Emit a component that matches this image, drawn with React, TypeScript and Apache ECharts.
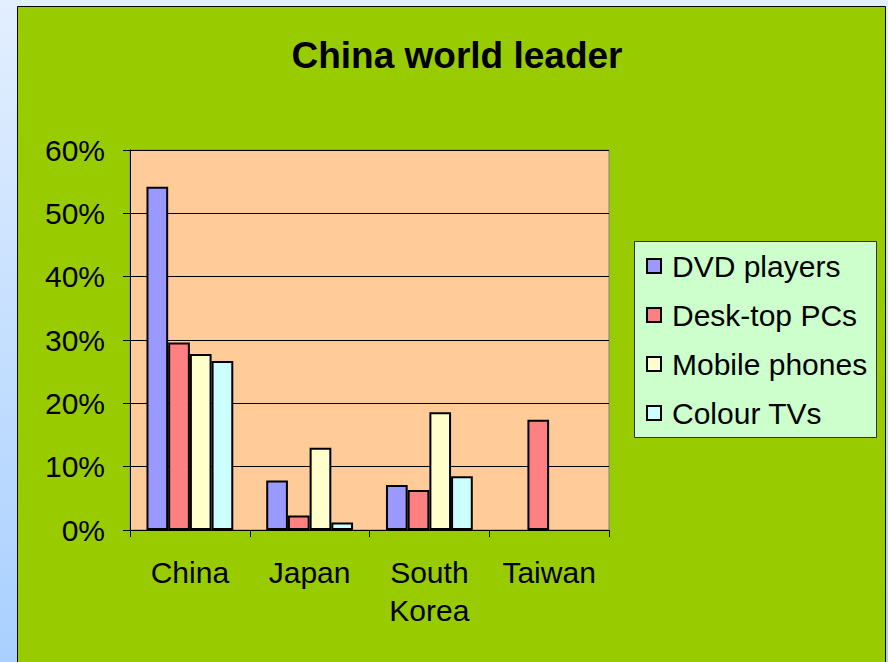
import React, { useEffect, useRef } from "react";
import * as echarts from "echarts";

const categories = ["China", "Japan", "South\nKorea", "Taiwan"];
const seriesNames = ["DVD players", "Desk-top PCs", "Mobile phones", "Colour TVs"];
const dvdPlayers = [54.2, 7.8, 7.1, null];
const deskTopPCs = [29.6, 2.3, 6.3, 17.4];
const mobilePhones = [27.8, 13.0, 18.6, null];
const colourTVs = [26.7, 1.2, 8.5, null];
const seriesColors = ["#9999FF", "#FF8080", "#FFFFCC", "#CCFFFF"];

const FONT = "Liberation Sans, Arial, sans-serif";

export default function App() {
  const ref = useRef<HTMLDivElement>(null);
  useEffect(() => {
    document.body.style.margin = "0";
    const chart = echarts.init(ref.current!, null, { renderer: "svg" });
    const values = [dvdPlayers, deskTopPCs, mobilePhones, colourTVs];
    chart.setOption({
      animation: false,
      backgroundColor: new echarts.graphic.LinearGradient(0, 0, 0, 1, [
        { offset: 0, color: "#E3EFFF" },
        { offset: 1, color: "#A9D0FF" },
      ]),
      graphic: [
        {
          type: "rect",
          z: -10,
          shape: { x: 17.5, y: 6.5, width: 868, height: 660 },
          style: { fill: "#99CC00", stroke: "#000000", lineWidth: 1 },
        },
        {
          type: "rect",
          z: -5,
          shape: { x: 634.5, y: 241.5, width: 242, height: 196 },
          style: { fill: "#CCFFCC", stroke: "#333333", lineWidth: 1 },
        },
      ],
      title: {
        text: "China world leader",
        left: 452,
        textAlign: "center",
        top: 32,
        textStyle: { fontFamily: FONT, fontSize: 37, fontWeight: "bold", color: "#000" },
      },
      legend: {
        orient: "vertical",
        left: 634,
        top: 242,
        padding: [9, 8, 10, 12],
        itemGap: 19,
        itemWidth: 14,
        itemHeight: 14,
        icon: "rect",
        textStyle: { fontFamily: FONT, fontSize: 30, lineHeight: 30, color: "#000", padding: [0, 0, 0, 6] },
        data: seriesNames,
      },
      grid: {
        left: 130,
        top: 150,
        right: 279,
        bottom: 132,
        show: true,
        backgroundColor: "#FFCC99",
        borderColor: "#808080",
        borderWidth: 1,
      },
      xAxis: {
        type: "category",
        data: categories,
        axisLine: { lineStyle: { color: "#000", width: 1 } },
        axisTick: { show: true, length: 7, lineStyle: { color: "#000" } },
        axisLabel: {
          fontFamily: FONT,
          fontSize: 30,
          color: "#000",
          margin: 23,
          lineHeight: 38,
          interval: 0,
        },
      },
      yAxis: {
        type: "value",
        min: 0,
        max: 60,
        interval: 10,
        axisLine: { show: true, lineStyle: { color: "#000", width: 1 } },
        axisTick: { show: true, length: 7, lineStyle: { color: "#000" } },
        axisLabel: {
          fontFamily: FONT,
          fontSize: 30,
          color: "#000",
          margin: 25,
          formatter: "{value}%",
        },
        splitLine: { lineStyle: { color: "#000", width: 1 } },
      },
      series: seriesNames.map((name, i) => ({
        name,
        type: "bar",
        data: values[i],
        barGap: "0%",
        barCategoryGap: "27.5%",
        itemStyle: { color: seriesColors[i], borderColor: "#000", borderWidth: 2 },
      })),
    });
    return () => chart.dispose();
  }, []);
  return <div ref={ref} style={{ width: 888, height: 662 }} />;
}
